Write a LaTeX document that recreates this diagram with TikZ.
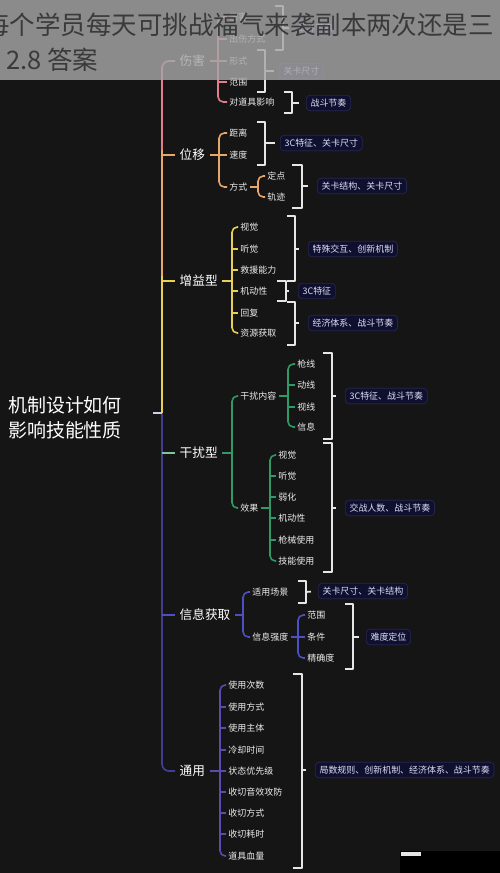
\documentclass[tikz,border=0pt]{standalone}
\usepackage{fontspec}
\setmainfont{Noto Sans CJK SC}
\usepackage{xcolor}
\usepackage{tikz}
\usetikzlibrary{calc}
\definecolor{bgdark}{HTML}{151515}
\definecolor{pinkc}{HTML}{E57C8C}
\definecolor{orangec}{HTML}{E8A66A}
\definecolor{yellowc}{HTML}{E8CF55}
\definecolor{greenc}{HTML}{2F9A66}
\definecolor{bluec}{HTML}{4C50C4}
\definecolor{purplec}{HTML}{5A4BB0}
\definecolor{trunkc}{HTML}{423D8E}
\definecolor{leafc}{HTML}{EDEDED}
\definecolor{tagfill}{HTML}{0F1030}
\definecolor{tagedge}{HTML}{26274F}
\definecolor{tagtext}{HTML}{DDDDF2}
\definecolor{brkc}{HTML}{E6E6E6}
\definecolor{veil}{HTML}{A6A6A6}
\definecolor{veiltext}{HTML}{3A3A3A}

\begin{document}
\begin{tikzpicture}[x=0.02cm, y=-0.02cm, line join=round,
  leaf/.style={anchor=west, inner sep=1.2pt, text=leafc, font=\fontsize{5.1}{6}\selectfont},
  topic/.style={anchor=west, inner sep=2.5pt, text=white, font=\fontsize{7.2}{8}\selectfont},
  tag/.style={anchor=west, fill=tagfill, draw=tagedge, line width=0.4pt, rounded corners=2pt,
    inner xsep=2.4pt, inner ysep=2pt, text=tagtext, font=\fontsize{5.1}{6}\selectfont},
  brk/.style={draw=brkc, line width=1pt},
  trunk/.style={line width=1pt},
  twig/.style={line width=0.9pt, rounded corners=3pt}]
  \fill[bgdark] (0,0) rectangle (500,873);
  \useasboundingbox (0,0) rectangle (500,873);

  \node[white, align=left, font=\fontsize{10.8}{14.2}\selectfont] (root) at (65,418) {机制设计如何\\影响技能性质};
  \coordinate (rt) at (153,413);
  \coordinate (rj) at (162,413);

  \node[topic] (sh) at (175,61) {伤害};
  \node[topic] (wy) at (175,155) {位移};
  \node[topic] (zy) at (175,281) {增益型};
  \node[topic] (gr) at (175,453) {干扰型};
  \node[topic] (xx) at (175,615) {信息获取};
  \node[topic] (ty) at (175,771) {通用};

  \draw[pinkc, trunk, rounded corners=4pt] (sh.west) -- (162,61) -- (162,150);
  \draw[orangec, trunk] (162,150) -- (162,276);
  \draw[orangec, trunk] (162,155) -- (wy.west);
  \draw[yellowc, trunk] (162,276) -- (rj);
  \draw[yellowc, trunk] (162,281) -- (zy.west);
  \draw[trunkc, trunk, rounded corners=4pt] (rj) -- (162,771) -- (ty.west);
  \draw[greenc!60!white, trunk] (162,453) -- (gr.west);
  \draw[bluec, trunk] (162,615) -- (xx.west);
  \draw[white!75!trunkc, trunk] (rt) -- (rj);

  \node[leaf] (sh1) at (227,17) {伤害};
  \node[leaf] (sh2) at (227,39) {出伤方式};
  \node[leaf] (sh3) at (227,61) {形式};
  \node[leaf] (sh4) at (227,82) {范围};
  \node[leaf] (sh5) at (227,102) {对道具影响};
  \draw[pinkc, twig] (sh1.west) -- (218,17) -- (218,102) -- (sh5.west);
  \draw[pinkc, twig] (sh.east) -- (218,61);
  \draw[pinkc, twig] (218,39) -- (sh2.west);
  \draw[pinkc, twig] (218,61) -- (sh3.west);
  \draw[pinkc, twig] (218,82) -- (sh4.west);
  \node[tag] (tagA) at (293,28) {战斗节奏};
  \node[tag] (tagB) at (279,71) {关卡尺寸};
  \node[tag] (tagC) at (306,103) {战斗节奏};
  \draw[brk] (275,6) -- (283,6) -- (283,50) -- (275,50);
  \draw[brk, shorten >=2pt] (283,28) -- (tagA.west);
  \draw[brk] (257,50) -- (265,50) -- (265,92) -- (257,92);
  \draw[brk, shorten >=3pt] (265,71) -- (tagB.west);
  \draw[brk] (284,92) -- (292,92) -- (292,113) -- (284,113);
  \draw[brk, shorten >=4pt] (292,103) -- (tagC.west);

  \node[leaf] (wy1) at (227,133) {距离};
  \node[leaf] (wy2) at (227,155) {速度};
  \node[leaf] (wy3) at (227,187) {方式};
  \node[leaf] (wy3a) at (265,176) {定点};
  \node[leaf] (wy3b) at (265,197) {轨迹};
  \draw[orangec, twig] (wy1.west) -- (219,133) -- (219,187) -- (wy3.west);
  \draw[orangec, twig] (wy.east) -- (219,155) -- (wy2.west);
  \draw[orangec, twig] (wy3a.west) -- (258,176) -- (258,197) -- (wy3b.west);
  \draw[orangec, twig] (wy3.east) -- (258,187);
  \node[tag] (tagD) at (280,143) {3C特征、关卡尺寸};
  \node[tag] (tagE) at (317,186) {关卡结构、关卡尺寸};
  \draw[brk] (257,122) -- (265,122) -- (265,165) -- (257,165);
  \draw[brk, shorten >=3pt] (265,143) -- (tagD.west);
  \draw[brk] (292,165) -- (302,165) -- (302,208) -- (292,208);
  \draw[brk, shorten >=5pt] (302,186) -- (tagE.west);

  \node[leaf] (zy1) at (238,227) {视觉};
  \node[leaf] (zy2) at (238,249) {听觉};
  \node[leaf] (zy3) at (238,270) {救援能力};
  \node[leaf] (zy4) at (238,291) {机动性};
  \node[leaf] (zy5) at (238,313) {回复};
  \node[leaf] (zy6) at (238,333) {资源获取};
  \draw[yellowc, twig] (zy1.west) -- (232,227) -- (232,333) -- (zy6.west);
  \draw[yellowc, twig] (zy.east) -- (232,281);
  \draw[yellowc, twig] (232,249) -- (zy2.west);
  \draw[yellowc, twig] (232,270) -- (zy3.west);
  \draw[yellowc, twig] (232,291) -- (zy4.west);
  \draw[yellowc, twig] (232,313) -- (zy5.west);
  \node[tag] (tagF) at (308,249) {特殊交互、创新机制};
  \node[tag] (tagG) at (298,291) {3C特征};
  \node[tag] (tagH) at (308,323) {经济体系、战斗节奏};
  \draw[brk] (287,216) -- (295,216) -- (295,281) -- (287,281);
  \draw[brk, shorten >=5pt] (295,249) -- (tagF.west);
  \draw[brk] (277,281) -- (286,281) -- (286,301) -- (277,301);
  \draw[brk, shorten >=5pt] (286,291) -- (tagG.west);
  \draw[brk] (287,302) -- (295,302) -- (295,345) -- (287,345);
  \draw[brk, shorten >=5pt] (295,323) -- (tagH.west);

  \node[leaf] (gr1) at (238,396) {干扰内容};
  \node[leaf] (gr2) at (238,508) {效果};
  \node[leaf] (gr1a) at (295,364) {枪线};
  \node[leaf] (gr1b) at (295,385) {动线};
  \node[leaf] (gr1c) at (295,407) {视线};
  \node[leaf] (gr1d) at (295,427) {信息};
  \node[leaf] (gr2a) at (276,455) {视觉};
  \node[leaf] (gr2b) at (276,476) {听觉};
  \node[leaf] (gr2c) at (276,497) {弱化};
  \node[leaf] (gr2d) at (276,518) {机动性};
  \node[leaf] (gr2e) at (276,540) {枪械使用};
  \node[leaf] (gr2f) at (276,561) {技能使用};
  \draw[greenc, twig] (gr1.west) -- (232,396) -- (232,508) -- (gr2.west);
  \draw[greenc, twig] (gr.east) -- (232,453);
  \draw[greenc, twig] (gr1a.west) -- (288,364) -- (288,427) -- (gr1d.west);
  \draw[greenc, twig] (gr1.east) -- (288,396);
  \draw[greenc, twig] (288,385) -- (gr1b.west);
  \draw[greenc, twig] (288,407) -- (gr1c.west);
  \draw[greenc, twig] (gr2a.west) -- (270,455) -- (270,561) -- (gr2f.west);
  \draw[greenc, twig] (gr2.east) -- (270,508);
  \draw[greenc, twig] (270,476) -- (gr2b.west);
  \draw[greenc, twig] (270,497) -- (gr2c.west);
  \draw[greenc, twig] (270,518) -- (gr2d.west);
  \draw[greenc, twig] (270,540) -- (gr2e.west);
  \node[tag] (tagI) at (345,396) {3C特征、战斗节奏};
  \node[tag] (tagJ) at (345,508) {交战人数、战斗节奏};
  \draw[brk] (323,353) -- (332,353) -- (332,439) -- (323,439);
  \draw[brk, shorten >=5pt] (332,396) -- (tagI.west);
  \draw[brk] (323,443) -- (332,443) -- (332,572) -- (323,572);
  \draw[brk, shorten >=5pt] (332,508) -- (tagJ.west);

  \node[leaf] (xx1) at (250,592) {适用场景};
  \node[leaf] (xx2) at (250,637) {信息强度};
  \node[leaf] (xx2a) at (305,615) {范围};
  \node[leaf] (xx2b) at (305,637) {条件};
  \node[leaf] (xx2c) at (305,658) {精确度};
  \draw[bluec, twig] (xx1.west) -- (243,592) -- (243,637) -- (xx2.west);
  \draw[bluec, twig] (xx.east) -- (243,615);
  \draw[bluec, twig] (xx2a.west) -- (298,615) -- (298,658) -- (xx2c.west);
  \draw[bluec, twig] (xx2.east) -- (xx2b.west);
  \node[tag] (tagK) at (318,591) {关卡尺寸、关卡结构};
  \node[tag] (tagL) at (366,637) {难度定位};
  \draw[brk] (298,581) -- (306,581) -- (306,603) -- (298,603);
  \draw[brk, shorten >=4pt] (306,592) -- (tagK.west);
  \draw[brk] (345,604) -- (353,604) -- (353,669) -- (345,669);
  \draw[brk, shorten >=4pt] (353,637) -- (tagL.west);

  \node[leaf] (ty1) at (226,685) {使用次数};
  \node[leaf] (ty2) at (226,707) {使用方式};
  \node[leaf] (ty3) at (226,728) {使用主体};
  \node[leaf] (ty4) at (226,750) {冷却时间};
  \node[leaf] (ty5) at (226,771) {状态优先级};
  \node[leaf] (ty6) at (226,792) {收切音效攻防};
  \node[leaf] (ty7) at (226,813) {收切方式};
  \node[leaf] (ty8) at (226,834) {收切耗时};
  \node[leaf] (ty9) at (226,856) {道具血量};
  \draw[purplec, twig] (ty1.west) -- (220,685) -- (220,856) -- (ty9.west);
  \draw[purplec, twig] (ty.east) -- (220,771) -- (ty5.west);
  \draw[purplec, twig] (220,707) -- (ty2.west);
  \draw[purplec, twig] (220,728) -- (ty3.west);
  \draw[purplec, twig] (220,750) -- (ty4.west);
  \draw[purplec, twig] (220,792) -- (ty6.west);
  \draw[purplec, twig] (220,813) -- (ty7.west);
  \draw[purplec, twig] (220,834) -- (ty8.west);
  \node[tag] (tagM) at (315,770) {局数规则、创新机制、经济体系、战斗节奏};
  \draw[brk] (293,674) -- (302,674) -- (302,868) -- (293,868);
  \draw[brk, shorten >=5pt] (302,770) -- (tagM.west);

  \fill[black] (400,851) rectangle (500,873);
  \fill[white!80!gray] (401,852) rectangle (421,856);

  \begin{scope}
    \clip (0,0) rectangle (500,873);
    \fill[veil, fill opacity=0.82] (0,0) rectangle (500,80);
    \node[anchor=west, inner sep=0pt, text=veiltext, font=\fontsize{14.5}{16}\selectfont] (veil1) at (-16,25) {每个学员每天可挑战福气来袭副本两次还是三};
    \node[anchor=west, inner sep=0pt, text=veiltext, font=\fontsize{14.5}{16}\selectfont] (veil2) at (6,60) {2.8 答案};
  \end{scope}
\end{tikzpicture}
\end{document}
